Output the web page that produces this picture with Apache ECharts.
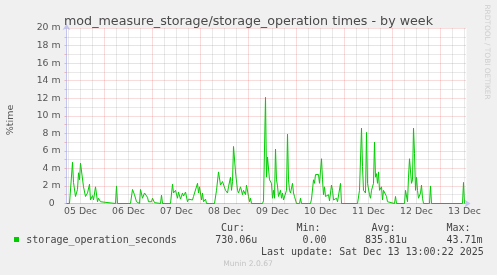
<!DOCTYPE html>
<html><head><meta charset="utf-8">
<script src="https://cdn.jsdelivr.net/npm/echarts@6/dist/echarts.min.js"></script>
<style>html,body{margin:0;padding:0;background:#F0F0F0;}#c{width:497px;height:275px;}</style>
</head><body><div id="c"></div>
<script>
// hours since 2025-12-05 00:00
const sampleHours = [
  5, 6.5, 8, 8.5, 9.5, 10.5, 11, 11.5, 12, 13, 13.5, 14, 14.5, 15.5, 16, 16.5, 17, 18, 18.5, 19, 19.5, 20.5, 21, 21.5, 22, 22.5,
  29.5, 30, 30.5,
  37, 38, 39, 40, 40.5, 41.5, 42, 43, 44, 44.5, 45.5, 46, 46.5, 47, 47.5, 48, 48.5, 49, 49.5,
  52, 52.5, 53,
  57, 58, 58.5, 59.5, 60.5, 61, 62, 63, 63.5, 64.5, 65.5, 66, 67, 68, 68.5, 69.5, 70.5, 71, 71.5, 72.5, 73, 73.5, 74.5, 75,
  79, 80, 81, 82, 83, 83.5, 84.5, 85.5, 86, 87, 87.5, 88, 88.5, 89.5, 90.5, 91, 92, 93, 93.5, 94.5, 95, 96, 96.5, 97, 97.5,
  103, 103.5, 104.5, 105, 105.5, 106.5, 107, 107.5, 108, 108.5, 109, 109.5, 110, 110.5, 111, 111.5, 112, 112.5, 113, 113.5, 114.5, 115, 115.5, 116, 116.5, 117, 118, 118.5, 119, 119.5, 120, 121.5, 122, 122.5,
  127, 127.5, 128.5, 129, 129.5, 130.5, 131, 131.5, 132.5, 133, 133.5, 134, 134.5, 135.5, 136, 136.5, 137.5, 138, 138.5, 139.5, 140, 140.5, 141.5, 142, 142.5,
  150.5, 151.5, 152.5, 153, 153.5, 154.5, 155, 155.5, 156.5, 157, 157.5, 158.5, 159, 159.5, 160, 160.5, 161, 161.5, 162.5, 163, 163.5, 164.5, 165, 165.5, 166,
  169, 169.5, 170,
  174, 174.5, 175.5, 176, 176.5, 177.5, 178, 178.5, 179, 179.5, 180, 180.5, 181, 182, 182.5, 183, 183.5,
  186.5, 187, 187.5,
  203, 203.5, 204
];
// storage_operation_seconds, in milli (%time)
const storageOpMilli = [
  0, 0, 4.7, 2.4, 0.8, 1.6, 3.5, 2.7, 4.6, 4.6, 1.9, 1.7, 0.8, 1.2, 1.2, 2.2, 0.4, 0.9, 0.4, 0.6, 1.9, 0.2, 0.6, 0.6, 0.2, 0,
  0, 2.0, 0,
  0, 1.6, 1.0, 0.2, 0, 0, 1.6, 0.6, 1.2, 1.1, 0.7, 0.2, 0, 0.4, 0.2, 0.6, 0.6, 0.1, 0,
  0, 0.95, 0,
  0, 2.2, 1.2, 1.5, 0.6, 1.3, 0.5, 1.2, 0.85, 1.3, 0.2, 0.5, 0.6, 0.4, 0.8, 0.85, 2.3, 1.2, 1.9, 0.4, 1.2, 0.2, 0.5, 0,
  0, 1.5, 3.6, 2.1, 2.5, 2.3, 1.5, 1.2, 1.9, 3.0, 1.5, 2.5, 6.5, 3.6, 1.5, 1.2, 1.9, 1.0, 1.5, 1.0, 2.1, 0.8, 0.2, 0.6, 0,
  0, 0.3, 12.1, 3.0, 5.3, 2.7, 2.9, 2.3, 0.6, 1.5, 0.6, 6.2, 2.7, 2.0, 0.8, 1.0, 1.5, 0.6, 1.2, 0.4, 0.2, 1.5, 7.9, 2.7, 1.5, 1.2, 2.3, 1.2, 0.8, 0.4, 0, 0, 0.6, 0,
  0, 0.5, 2.7, 2.3, 3.3, 3.2, 3.3, 2.3, 5.1, 2.7, 1.0, 1.9, 0.8, 0.6, 1.0, 0.3, 2.1, 1.5, 0.4, 0.2, 0.6, 0.2, 0, 2.3, 0,
  0, 1.5, 8.6, 4.2, 1.5, 1.2, 8.1, 2.3, 1.0, 0.6, 1.5, 2.3, 7.0, 3.0, 3.4, 2.3, 3.6, 1.5, 1.9, 0.4, 1.5, 1.7, 0.8, 0.2, 0,
  0, 0.8, 0,
  0, 1.5, 0.2, 3.0, 5.1, 2.3, 2.7, 8.6, 5.7, 1.5, 3.0, 1.5, 0.6, 1.2, 2.1, 0.6, 0,
  0, 2.0, 0,
  0, 2.4, 0
];
const dayLabels = ['05 Dec', '06 Dec', '07 Dec', '08 Dec', '09 Dec', '10 Dec', '11 Dec', '12 Dec', '13 Dec'];
const dayLabelHours = [12, 36, 60, 84, 108, 132, 156, 180, 204];
const xMin = 5, xMax = 205;
const legendName = 'storage_operation_seconds';
const statHeads = ['Cur:', 'Min:', 'Avg:', 'Max:'];
const statValues = ['730.06u', '0.00', '835.81u', '43.71m'];
const lastUpdate = 'Last update: Sat Dec 13 13:00:22 2025';

const RED = 'rgba(230,80,80,0.42)';
const GREY = 'rgba(140,140,140,0.38)';
const vLines = [];
for (let h = 6; h < xMax; h += 6) {
  vLines.push({ xAxis: h, lineStyle: { color: h % 24 === 0 ? RED : GREY } });
}

const chart = echarts.init(document.getElementById('c'), null, { renderer: 'canvas' });
const mono = 'DejaVu Sans Mono';
const headX = [221, 296.5, 371.5, 446.5];
const valX = [215.2, 302.5, 365, 446.5];
const graphic = [
  { type: 'text', x: 11, y: 120, rotation: Math.PI / 2, style: { text: '%time', fontFamily: 'DejaVu Sans', fontSize: 9.5, fill: '#555', align: 'center', verticalAlign: 'middle' } },
  { type: 'text', x: 487, y: 52, rotation: -Math.PI / 2, style: { text: 'RRDTOOL / TOBI OETIKER', fontFamily: 'DejaVu Sans', fontSize: 7.4, fill: '#cfcfcf', align: 'center', verticalAlign: 'middle' } },
  { type: 'rect', shape: { x: 14, y: 237, width: 5, height: 5 }, style: { fill: '#00CC00' } },
  { type: 'text', x: 26.3, y: 240, style: { text: legendName, fontFamily: mono, fontSize: 10, fill: '#444', align: 'left', verticalAlign: 'middle' } },
  { type: 'text', x: 261, y: 252, style: { text: lastUpdate, fontFamily: mono, fontSize: 10, fill: '#444', align: 'left', verticalAlign: 'middle' } },
  { type: 'text', x: 248, y: 264.5, style: { text: 'Munin 2.0.67', fontFamily: 'DejaVu Sans', fontSize: 7.6, fill: '#c4c4c4', align: 'center', verticalAlign: 'middle' } }
];
statHeads.forEach((t, i) => graphic.push({ type: 'text', x: headX[i], y: 228, style: { text: t, fontFamily: mono, fontSize: 10, fill: '#444', align: 'left', verticalAlign: 'middle' } }));
statValues.forEach((t, i) => graphic.push({ type: 'text', x: valX[i], y: 240, style: { text: t, fontFamily: mono, fontSize: 10, fill: '#444', align: 'left', verticalAlign: 'middle' } }));

const option = {
  backgroundColor: '#F0F0F0',
  animation: false,
  title: {
    text: 'mod_measure_storage/storage_operation times - by week',
    left: 'center', top: 10,
    textStyle: { fontFamily: 'DejaVu Sans', fontSize: 12.7, fontWeight: 'normal', color: '#4a4a4a' }
  },
  grid: { left: 66.5, top: 28, width: 400, height: 175.5, show: true, backgroundColor: '#FFFFFF', borderWidth: 0 },
  xAxis: {
    type: 'value', min: xMin, max: xMax,
    axisLine: { show: true, lineStyle: { color: '#c4c4f0', width: 1 }, symbol: ['none', 'arrow'], symbolSize: [6, 6], symbolOffset: [0, 4] },
    axisTick: { show: false },
    splitLine: { show: false },
    axisLabel: {
      customValues: dayLabelHours,
      formatter: v => dayLabels[Math.round((v - 12) / 24)] || '',
      fontFamily: 'DejaVu Sans', fontSize: 9.3, color: '#555', margin: 4
    }
  },
  yAxis: {
    type: 'value', min: 0, max: 20, interval: 1,
    axisLine: { show: true, lineStyle: { color: '#c4c4f0', width: 1 }, symbol: ['none', 'arrow'], symbolSize: [6, 6], symbolOffset: [0, 4] },
    axisTick: { show: true, length: 2, lineStyle: { color: 'rgba(235,120,120,0.5)' } },
    axisLabel: {
      formatter: v => (v % 2 ? '' : (v === 0 ? '0  ' : v + ' m')),
      fontFamily: 'DejaVu Sans', fontSize: 9.3, color: '#555', margin: 6
    },
    splitLine: { show: true, lineStyle: { color: [RED, GREY], width: 1, type: [1, 1] } }
  },
  series: [
    {
      type: 'line', data: [], silent: true, z: 1,
      markLine: { silent: true, symbol: ['none', 'none'], label: { show: false }, lineStyle: { width: 1, type: [1, 1] }, data: vLines, animation: false }
    },
    {
      type: 'line', name: legendName, z: 3,
      data: sampleHours.map((h, i) => [h, storageOpMilli[i]]),
      showSymbol: false, symbol: 'none',
      lineStyle: { color: '#00CC00', width: 1 },
      itemStyle: { color: '#00CC00' }
    }
  ],
  graphic: graphic
};
chart.setOption(option);
</script></body></html>
